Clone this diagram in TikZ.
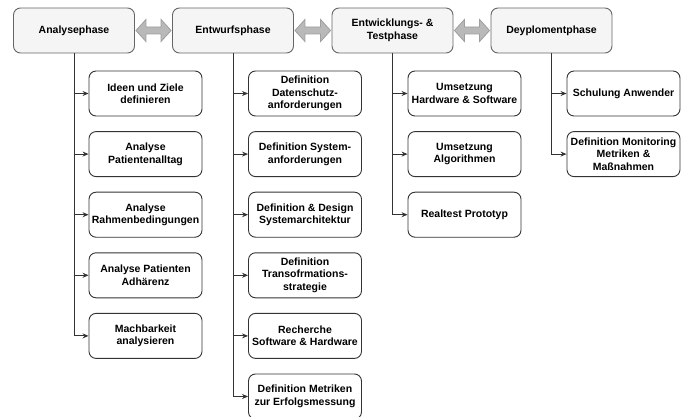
\documentclass[tikz,border=0pt]{standalone}
\usepackage{fontspec}
\setmainfont{Liberation Sans}
\usetikzlibrary{arrows.meta, calc}
\definecolor{phasefill}{HTML}{F5F5F5}
\definecolor{phaseline}{HTML}{666666}
\definecolor{taskline}{HTML}{333333}
\tikzset{
  phase box/.style={
    draw=phaseline,
    fill=phasefill,
    rounded corners=7pt,
    line width=0.9pt,
    minimum width=121pt,
    minimum height=45pt,
    inner sep=1pt,
    align=center,
    font=\bfseries\fontsize{10.5}{12.5}\selectfont
  },
  task box/.style={
    draw=taskline,
    fill=white,
    rounded corners=7pt,
    line width=0.9pt,
    minimum width=113pt,
    minimum height=45pt,
    inner sep=1pt,
    align=center,
    font=\bfseries\fontsize{10.5}{12.5}\selectfont
  },
  link/.style={
    -{Stealth[length=6pt, width=5pt]},
    draw=taskline,
    line width=0.9pt
  },
  phase arrow/.style={
    fill=gray!55,
    draw=gray!75,
    line width=0.8pt
  }
}
% breiter Doppelpfeil zwischen zwei Phasen
\newcommand{\phasearrow}[2]{%
  \path[phase arrow] let \p1=(#1.east), \p2=(#2.west) in
    (\x1+1pt,\y1) -- (\x1+11pt,\y1+11pt) -- (\x1+11pt,\y1+3.5pt)
    -- (\x2-11pt,\y1+3.5pt) -- (\x2-11pt,\y1+11pt) -- (\x2-1pt,\y1)
    -- (\x2-11pt,\y1-11pt) -- (\x2-11pt,\y1-3.5pt)
    -- (\x1+11pt,\y1-3.5pt) -- (\x1+11pt,\y1-11pt) -- cycle;}

\begin{document}
\begin{tikzpicture}[x=1pt, y=-1pt]
    \useasboundingbox (0,0) rectangle (686,417);

    % Phasen (obere Reihe)
    \node[phase box] (ana) at (74, 30.5) {Analysephase};
    \node[phase box] (ent) at (233, 30.5) {Entwurfsphase};
    \node[phase box] (dev) at (392.5, 30.5) {Entwicklungs- \&\\Testphase};
    \node[phase box] (dep) at (551.5, 30.5) {Deyplomentphase};

    \phasearrow{ana}{ent}
    \phasearrow{ent}{dev}
    \phasearrow{dev}{dep}

    % Analysephase
    \foreach \txt [count=\i] in {{Ideen und Ziele\\definieren},
        {Analyse\\Patientenalltag}, {Analyse\\Rahmenbedingungen},
        {Analyse Patienten\\Adhärenz}, {Machbarkeit\\analysieren}} {
      \node[task box] (a\i) at (145.5, {93.5+60.6*(\i-1)}) {\txt};
      \draw[link] (ana.south) |- (a\i.west);
    }

    % Entwurfsphase
    \foreach \txt [count=\i] in {{Definition\\Datenschutz-\\anforderungen},
        {Definition System-\\anforderungen}, {Definition \& Design\\Systemarchitektur},
        {Definition\\Transofrmations-\\strategie}, {Recherche\\Software \& Hardware},
        {Definition Metriken\\zur Erfolgsmessung}} {
      \node[task box] (e\i) at (305, {93.5+60.6*(\i-1)}) {\txt};
      \draw[link] (ent.south) |- (e\i.west);
    }

    % Entwicklungs- & Testphase
    \foreach \txt [count=\i] in {{Umsetzung\\Hardware \& Software},
        {Umsetzung\\Algorithmen}, {Realtest Prototyp}} {
      \node[task box] (d\i) at (464.5, {93.5+60.6*(\i-1)}) {\txt};
      \draw[link] (dev.south) |- (d\i.west);
    }

    % Deyplomentphase
    \foreach \txt [count=\i] in {{Schulung Anwender},
        {Definition Monitoring\\Metriken \&\\Maßnahmen}} {
      \node[task box] (p\i) at (623.5, {93.5+60.6*(\i-1)}) {\txt};
      \draw[link] (dep.south) |- (p\i.west);
    }

\end{tikzpicture}
\end{document}
